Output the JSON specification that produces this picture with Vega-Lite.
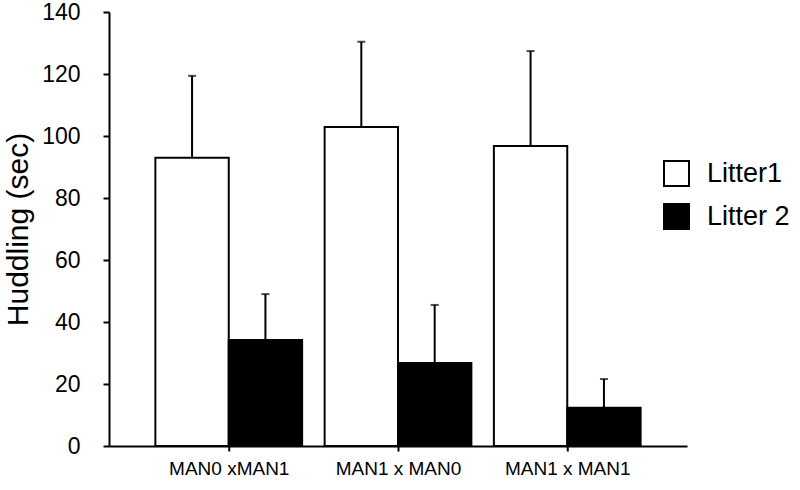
{
  "$schema": "https://vega.github.io/schema/vega-lite/v6.json",
  "width": 578,
  "height": 434,
  "autosize": {"type": "none"},
  "padding": {"left": 109, "top": 12, "right": 113, "bottom": 44},
  "background": "white",
  "config": {
    "font": "Liberation Sans",
    "view": {"stroke": null},
    "axis": {"domainColor": "black", "domainWidth": 2, "labelColor": "black", "titleColor": "black", "grid": false, "labelFont": "Liberation Sans", "titleFont": "Liberation Sans", "zindex": 1}
  },
  "data": {
    "values": [
      {"cross": "MAN0 xMAN1", "litter": "Litter1", "mean": 93.0, "upper": 119.4},
      {"cross": "MAN0 xMAN1", "litter": "Litter 2", "mean": 34.2, "upper": 49.0},
      {"cross": "MAN1 x MAN0", "litter": "Litter1", "mean": 102.9, "upper": 130.4},
      {"cross": "MAN1 x MAN0", "litter": "Litter 2", "mean": 26.8, "upper": 45.5},
      {"cross": "MAN1  x MAN1", "litter": "Litter1", "mean": 96.8, "upper": 127.4},
      {"cross": "MAN1  x MAN1", "litter": "Litter 2", "mean": 12.3, "upper": 21.6}
    ]
  },
  "encoding": {
    "x": {
      "field": "cross", "type": "nominal", "sort": null,
      "scale": {"paddingInner": 0.133, "paddingOuter": 0.274},
      "axis": {"title": null, "labelAngle": 0, "labelFontSize": 19, "ticks": true, "tickSize": 5, "tickColor": "#000000", "tickOpacity": 1, "tickWidth": 2, "tickRound": false, "tickOffset": 0, "labelPadding": 8, "labelDx": -7}
    },
    "xOffset": {
      "field": "litter", "type": "nominal", "sort": ["Litter1", "Litter 2"],
      "scale": {"paddingInner": 0, "paddingOuter": 0}
    }
  },
  "layer": [
    {
      "mark": {"type": "bar", "stroke": "black", "strokeWidth": 2},
      "encoding": {
        "y": {
          "field": "mean", "type": "quantitative",
          "scale": {"domain": [0, 140], "nice": false},
          "axis": {
            "title": "Huddling (sec)", "titleFontSize": 30, "titleFontWeight": "normal", "titlePadding": 8,
            "values": [0, 10, 20, 30, 40, 50, 60, 70, 80, 90, 100, 110, 120, 130, 140],
            "labelExpr": "datum.value % 20 === 0 ? datum.label : ''",
            "labelFontSize": 23, "ticks": true, "tickSize": 6, "tickColor": "#000000", "tickOpacity": 1, "tickWidth": 2, "tickRound": false, "tickOffset": 0, "labelPadding": 23
          }
        },
        "fill": {
          "field": "litter", "type": "nominal",
          "scale": {"domain": ["Litter1", "Litter 2"], "range": ["white", "black"]},
          "legend": {
            "title": null, "orient": "none", "legendX": 554, "legendY": 148,
            "symbolType": "square", "symbolSize": 625, "symbolStrokeColor": "black", "symbolStrokeWidth": 2,
            "labelFontSize": 27, "labelOffset": 17, "rowPadding": 10, "labelColor": "black"
          }
        }
      }
    },
    {
      "mark": {"type": "rule", "color": "black", "strokeWidth": 2},
      "encoding": {
        "y": {"field": "mean", "type": "quantitative"},
        "y2": {"field": "upper"}
      }
    },
    {
      "mark": {"type": "tick", "color": "black", "thickness": 2, "size": 8},
      "encoding": {
        "y": {"field": "upper", "type": "quantitative"}
      }
    }
  ]
}
